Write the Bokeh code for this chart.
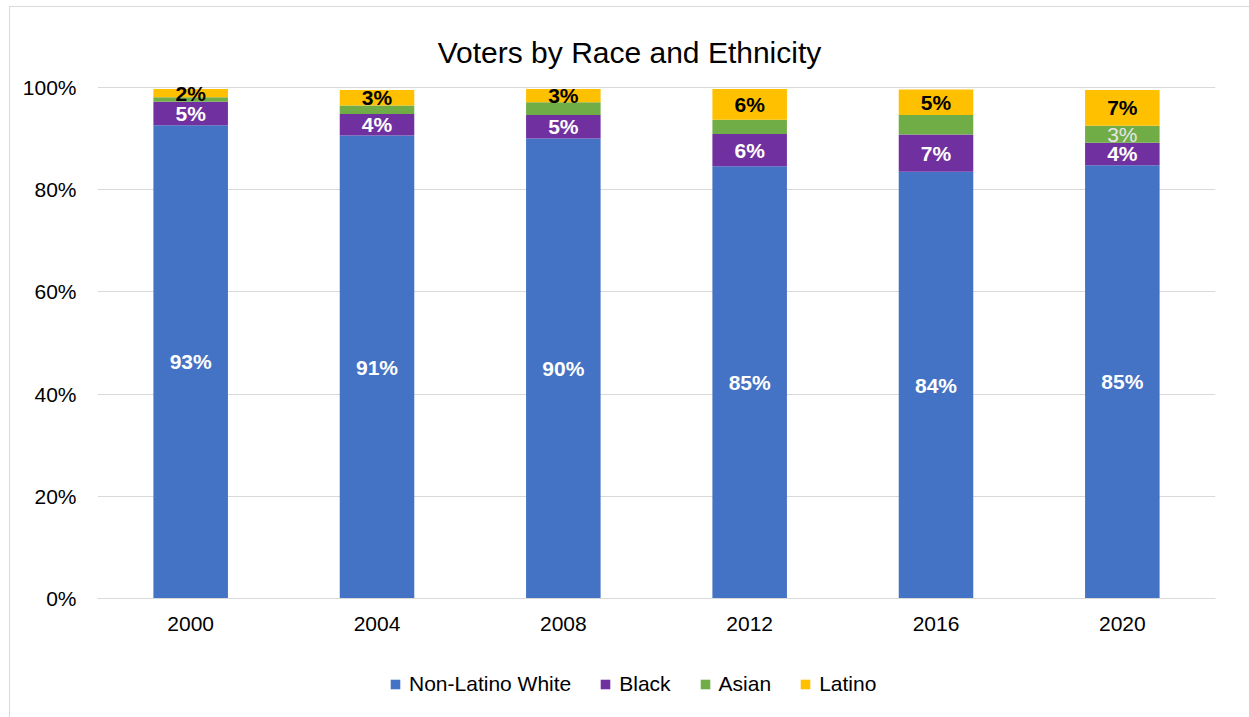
from bokeh.plotting import figure
from bokeh.models import (ColumnDataSource, FixedTicker, PrintfTickFormatter, Legend, LegendItem,
                          LabelSet, Label, Range1d)
from bokeh.core.properties import value
from bokeh.embed import file_html
from bokeh.resources import INLINE

years = ["2000", "2004", "2008", "2012", "2016", "2020"]
series = ["Non-Latino White", "Black", "Asian", "Latino"]
white = [92.6, 90.6, 90.0, 84.6, 83.5, 84.8]
black = [4.6, 4.2, 4.6, 6.3, 7.3, 4.4]
asian = [0.9, 1.7, 2.5, 2.8, 3.8, 3.3]
latino = [1.6, 3.0, 2.6, 6.0, 5.0, 7.0]
asian_labeled = ["2020"]
y_ticks = [0, 20, 40, 60, 80, 100]
colors = ["#4472C4", "#7030A0", "#70AD47", "#FFC000"]
title_text = "Voters by Race and Ethnicity"

FONT = "Liberation Sans"
keys = ["white", "black", "asian", "latino"]
data = dict(year=years, white=white, black=black, asian=asian, latino=latino)
src = ColumnDataSource(data)

# frame covers the whole chart height so title and legend can sit inside it
PX_PER_UNIT = 5.11
FRAME_H = 710
TOP_PAD = 80  # pixels above the 100% line
p = figure(x_range=years, frame_width=1118, frame_height=FRAME_H, output_backend="svg",
           toolbar_location=None, min_border_left=87, min_border_right=34, min_border_top=0,
           min_border_bottom=0)
p.title.visible = False
p.styles = {"border-left": "1px solid #D9D9D9", "border-top": "1px solid #D9D9D9",
            "margin-left": "9px", "margin-top": "6px"}
y_end = 100 + TOP_PAD / PX_PER_UNIT
p.y_range = Range1d(y_end - FRAME_H / PX_PER_UNIT, y_end)

renderers = p.vbar_stack(keys, x="year", width=0.4, color=colors, source=src, line_width=0)

def add_labels(vals, bottoms, years_sel, color, bold=True):
    xs, ys, ts = [], [], []
    for y, v, b in zip(years, vals, bottoms):
        if y in years_sel:
            xs.append(y)
            ys.append(b + v / 2)
            ts.append(f"{round(v)}%")
    s = ColumnDataSource(dict(x=xs, y=ys, t=ts))
    p.add_layout(LabelSet(x="x", y="y", text="t", source=s, text_align="center", text_baseline="middle",
                          text_color=color, text_font=value(FONT), text_font_size="21px",
                          text_font_style="bold" if bold else "normal"))

b0 = [0] * len(years)
b1 = [a + b for a, b in zip(b0, white)]
b2 = [a + b for a, b in zip(b1, black)]
b3 = [a + b for a, b in zip(b2, asian)]
add_labels(white, b0, years, "white")
add_labels(black, b1, years, "white")
add_labels(asian, b2, asian_labeled, "#E6E6E6", bold=False)
add_labels(latino, b3, years, "black")

p.yaxis.ticker = FixedTicker(ticks=y_ticks)
p.yaxis.formatter = PrintfTickFormatter(format="%d%%")
p.ygrid.ticker = FixedTicker(ticks=y_ticks)
p.ygrid.grid_line_color = "#D9D9D9"
p.ygrid.grid_line_width = 1
p.xgrid.grid_line_color = None
for ax in (p.xaxis[0], p.yaxis[0]):
    ax.major_tick_line_color = None
    ax.minor_tick_line_color = None
    ax.major_label_text_font = FONT
    ax.major_label_text_font_size = "21px"
    ax.major_label_text_color = "#000000"
p.yaxis.axis_line_color = None
p.yaxis.major_label_standoff = 15
p.xaxis.fixed_location = 0
p.xaxis.axis_line_color = "#D9D9D9"
p.xaxis.major_label_standoff = 12
p.outline_line_color = None

# chart title (screen units, measured from the frame's bottom-left corner)
p.add_layout(Label(x=532, y=FRAME_H - 45, x_units="screen", y_units="screen", text=title_text,
                   text_align="center", text_baseline="alphabetic", text_font=FONT,
                   text_font_size="30px", text_color="#000000"))

items = [LegendItem(label=n, renderers=[r]) for n, r in zip(series, renderers)]
legend = Legend(items=items, orientation="horizontal", location=(292, 21),
                label_text_font=FONT, label_text_font_size="21px", label_text_color="#000000",
                glyph_width=12, glyph_height=12, label_standoff=8, spacing=28,
                padding=0, margin=0, border_line_color=None, background_fill_alpha=0)
p.add_layout(legend, "center")

open("out.html", "w").write(file_html(p, INLINE))
